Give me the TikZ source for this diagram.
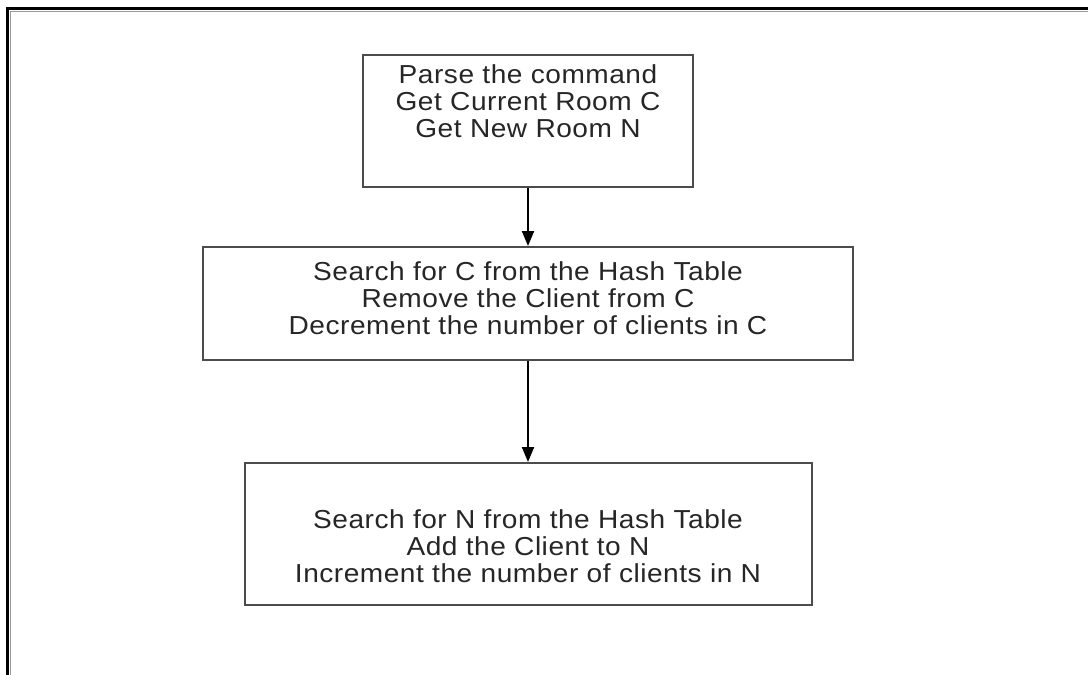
\documentclass[tikz,border=0pt]{standalone}
\usepackage{fontspec}
\setmainfont{Liberation Sans}[FakeStretch=1.08, LetterSpace=2]
\usetikzlibrary{arrows.meta}
\begin{document}
\begin{tikzpicture}[x=1pt,y=-1pt,
  stepbox/.style={draw=black!70, line width=2pt, fill=white, inner sep=0pt},
  steptext/.style={align=center, inner sep=0pt, text=black!85, font=\fontsize{26}{27}\selectfont},
  flow/.style={draw=black, line width=2pt, -{Triangle[length=15pt,width=12pt]}}]
  % page area
  \fill[white] (0,0) rectangle (1088,675);
  \useasboundingbox (0,0) rectangle (1088,675);
  % frame along the top and left edges
  \draw[black, line width=3pt] (7,675) -- (7,8) -- (1088,8);
  \draw[black!40, line width=1pt] (10,675) -- (10,11) -- (1088,11);
  % process boxes
  \node[stepbox, minimum width=330pt, minimum height=132pt] (b1) at (528,121) {};
  \node[stepbox, minimum width=650pt, minimum height=113pt] (b2) at (528,303.5) {};
  \node[stepbox, minimum width=567pt, minimum height=142pt] (b3) at (528,534) {};
  % box texts
  \node[steptext] (t1) at ([yshift=20pt]b1.center) {Parse the command\\Get Current Room C\\Get New Room N};
  \node[steptext] (t2) at ([yshift=5pt]b2.center) {Search for C from the Hash Table\\Remove the Client from C\\Decrement the number of clients in C};
  \node[steptext] (t3) at ([yshift=-12pt]b3.center) {Search for N from the Hash Table\\Add the Client to N\\Increment the number of clients in N};
  % connectors
  \draw[flow] (b1.south) -- (b2.north);
  \draw[flow] (b2.south) -- (b3.north);
\end{tikzpicture}
\end{document}
